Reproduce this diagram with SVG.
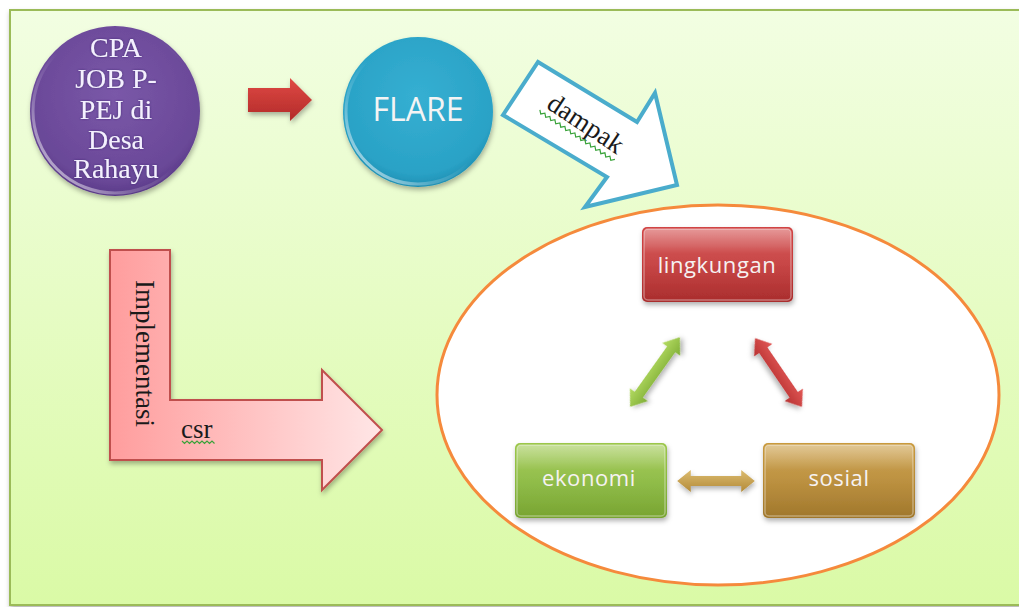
<svg xmlns="http://www.w3.org/2000/svg" width="1019" height="607" viewBox="0 0 1019 607">
<defs>
  <linearGradient id="bg" x1="0" y1="0" x2="0" y2="1">
    <stop offset="0" stop-color="#f2fee2"/>
    <stop offset="1" stop-color="#dafaa6"/>
  </linearGradient>
  <radialGradient id="purple" cx="0.5" cy="0.4" r="0.6">
    <stop offset="0" stop-color="#7a58a8"/>
    <stop offset="0.85" stop-color="#6a4898"/>
    <stop offset="1" stop-color="#5a3a88"/>
  </radialGradient>
  <radialGradient id="blue" cx="0.5" cy="0.4" r="0.6">
    <stop offset="0" stop-color="#35afd2"/>
    <stop offset="0.85" stop-color="#2aa2c6"/>
    <stop offset="1" stop-color="#1f8fb3"/>
  </radialGradient>
  <linearGradient id="rim" x1="0" y1="1" x2="1" y2="0">
    <stop offset="0" stop-color="#ffffff" stop-opacity="0.8"/>
    <stop offset="0.3" stop-color="#ffffff" stop-opacity="0.2"/>
    <stop offset="0.5" stop-color="#ffffff" stop-opacity="0"/>
    <stop offset="0.85" stop-color="#ffffff" stop-opacity="0"/>
    <stop offset="1" stop-color="#ffffff" stop-opacity="0.5"/>
  </linearGradient>
  <linearGradient id="redArrow" x1="0" y1="0" x2="0" y2="1">
    <stop offset="0" stop-color="#e04a45"/>
    <stop offset="1" stop-color="#b22a28"/>
  </linearGradient>
  <linearGradient id="lArrow" x1="0" y1="0" x2="1" y2="0">
    <stop offset="0" stop-color="#ff9d9d"/>
    <stop offset="1" stop-color="#ffe6e6"/>
  </linearGradient>
  <linearGradient id="boxRed" x1="0" y1="0" x2="0" y2="1">
    <stop offset="0" stop-color="#d14444"/>
    <stop offset="0.5" stop-color="#c43a3a"/>
    <stop offset="1" stop-color="#a92d2d"/>
  </linearGradient>
  <linearGradient id="boxGreen" x1="0" y1="0" x2="0" y2="1">
    <stop offset="0" stop-color="#9cc74a"/>
    <stop offset="0.5" stop-color="#8ab93e"/>
    <stop offset="1" stop-color="#78a432"/>
  </linearGradient>
  <linearGradient id="boxGold" x1="0" y1="0" x2="0" y2="1">
    <stop offset="0" stop-color="#c99a3e"/>
    <stop offset="0.5" stop-color="#b88a34"/>
    <stop offset="1" stop-color="#a0772c"/>
  </linearGradient>
  <linearGradient id="gloss" x1="0" y1="0" x2="0" y2="1">
    <stop offset="0" stop-color="#ffffff" stop-opacity="0.45"/>
    <stop offset="0.35" stop-color="#ffffff" stop-opacity="0.08"/>
    <stop offset="1" stop-color="#ffffff" stop-opacity="0"/>
  </linearGradient>
  <linearGradient id="dGreen" x1="0" y1="0" x2="0" y2="1">
    <stop offset="0" stop-color="#b5dc63"/>
    <stop offset="1" stop-color="#7fae36"/>
  </linearGradient>
  <linearGradient id="dRed" x1="0" y1="0" x2="0" y2="1">
    <stop offset="0" stop-color="#e25856"/>
    <stop offset="1" stop-color="#b83232"/>
  </linearGradient>
  <linearGradient id="dGold" x1="0" y1="0" x2="0" y2="1">
    <stop offset="0" stop-color="#dcbc70"/>
    <stop offset="1" stop-color="#b38a38"/>
  </linearGradient>
  <filter id="shadow" x="-20%" y="-20%" width="140%" height="150%">
    <feDropShadow dx="1" dy="3" stdDeviation="2.5" flood-color="#000" flood-opacity="0.3"/>
  </filter>
  <filter id="glow" x="-20%" y="-20%" width="140%" height="140%">
    <feDropShadow dx="0" dy="0" stdDeviation="1" flood-color="#3a2a70" flood-opacity="0.9"/>
  </filter>
  <polygon id="dbl" points="-40,0 -26,-11 -26,-5 26,-5 26,-11 40,0 26,11 26,5 -26,5 -26,11"/>
</defs>
<style>
  .serif { font-family: "Liberation Serif", "Times New Roman", serif; }
  .sans { font-family: "Open Sans", "Noto Sans", sans-serif; }
  .boxtxt { font-family: "Open Sans", "Noto Sans", sans-serif; font-size: 22px; fill: #f6f2f2; text-anchor: middle; letter-spacing: 0.6px; }
  .squiggle { fill: none; stroke: #3aa33a; stroke-width: 1.2; }
</style>

<rect x="0" y="0" width="1019" height="607" fill="#ffffff"/>
<rect x="10" y="10" width="1030" height="595" fill="url(#bg)" stroke="#9bbb59" stroke-width="2" filter="url(#shadow)"/>

<g id="csr-cycle">
  <ellipse cx="718" cy="395" rx="281" ry="190" fill="#ffffff" stroke="#f58a3c" stroke-width="3"/>
</g>

<g id="cpa-job">
  <circle cx="115" cy="111" r="85" fill="url(#purple)" filter="url(#shadow)"/>
  <circle cx="115" cy="111" r="82" fill="none" stroke="url(#rim)" stroke-width="3"/>
  <g class="serif" font-size="28" fill="#f4f0ff" text-anchor="middle" filter="url(#glow)">
    <text x="116" y="57">CPA</text>
    <text x="116" y="88">JOB P-</text>
    <text x="116" y="119">PEJ di</text>
    <text x="116" y="149">Desa</text>
    <text x="116" y="178">Rahayu</text>
  </g>
</g>

<g id="flare">
  <circle cx="418" cy="112" r="75" fill="url(#blue)" filter="url(#shadow)"/>
  <circle cx="418" cy="112" r="72" fill="none" stroke="url(#rim)" stroke-width="3"/>
  <text x="418" y="121" class="sans" font-size="32" fill="#f4f4f4" text-anchor="middle">FLARE</text>
</g>

<g id="lingkungan">
  <rect x="642" y="227" width="151" height="75" rx="5" fill="url(#boxRed)" filter="url(#shadow)"/>
  <rect x="644" y="229" width="147" height="71" rx="4" fill="url(#gloss)" stroke="#ffffff" stroke-opacity="0.35" stroke-width="1.5"/>
  <text x="717" y="273" class="boxtxt">lingkungan</text>
</g>

<g id="ekonomi">
  <rect x="515" y="443" width="152" height="75" rx="5" fill="url(#boxGreen)" filter="url(#shadow)"/>
  <rect x="517" y="445" width="148" height="71" rx="4" fill="url(#gloss)" stroke="#ffffff" stroke-opacity="0.35" stroke-width="1.5"/>
  <text x="589" y="486" class="boxtxt">ekonomi</text>
</g>

<g id="sosial">
  <rect x="763" y="443" width="152" height="75" rx="5" fill="url(#boxGold)" filter="url(#shadow)"/>
  <rect x="765" y="445" width="148" height="71" rx="4" fill="url(#gloss)" stroke="#ffffff" stroke-opacity="0.35" stroke-width="1.5"/>
  <text x="839" y="486" class="boxtxt">sosial</text>
</g>

<g id="connectors">
  <polygon points="248,88 290,88 290,78 312,100 290,121 290,112 248,112" fill="url(#redArrow)" filter="url(#shadow)"/>

  <g id="dampak-arrow">
    <polygon points="538,62 637,122 655,93 677,185 585,207 607,177 503,115" fill="#ffffff" stroke="#4aaccc" stroke-width="4" stroke-linejoin="miter"/>
    <text class="serif" font-size="27" fill="#1a1a1a" text-anchor="middle" transform="translate(581,131) rotate(33.5)">dampak</text>
    <path class="squiggle" transform="translate(581,131) rotate(33.5)" d="M-46,5 l3,3 l3,-3 l3,3 l3,-3 l3,3 l3,-3 l3,3 l3,-3 l3,3 l3,-3 l3,3 l3,-3 l3,3 l3,-3 l3,3 l3,-3 l3,3 l3,-3 l3,3 l3,-3 l3,3 l3,-3 l3,3 l3,-3 l3,3 l3,-3 l3,3 l3,-3 l3,3 l3,-3"/>
  </g>

  <g id="implementasi-arrow">
    <polygon points="110,250 170,250 170,400 322,400 322,370 382,430 322,490 322,460 110,460" fill="url(#lArrow)" stroke="#c0504d" stroke-width="2" filter="url(#shadow)"/>
    <text class="serif" font-size="27" fill="#1a1a1a" transform="translate(136,280) rotate(90)">Implementasi</text>
    <text x="181" y="438" class="serif" font-size="27" fill="#1a1a1a">csr</text>
    <path class="squiggle" d="M182,441 l2.5,2.5 l2.5,-2.5 l2.5,2.5 l2.5,-2.5 l2.5,2.5 l2.5,-2.5 l2.5,2.5 l2.5,-2.5 l2.5,2.5 l2.5,-2.5 l2.5,2.5 l2.5,-2.5 l2.5,2.5"/>
  </g>

  <use href="#dbl" fill="url(#dGreen)" filter="url(#shadow)" transform="translate(655,372) rotate(-54.5) scale(1.07,1)"/>
  <use href="#dbl" fill="url(#dRed)" filter="url(#shadow)" transform="translate(778.5,372.5) rotate(55.7) scale(1.04,1)"/>
  <use href="#dbl" fill="url(#dGold)" filter="url(#shadow)" transform="translate(716,481) scale(0.97,1)"/>
</g>
</svg>
